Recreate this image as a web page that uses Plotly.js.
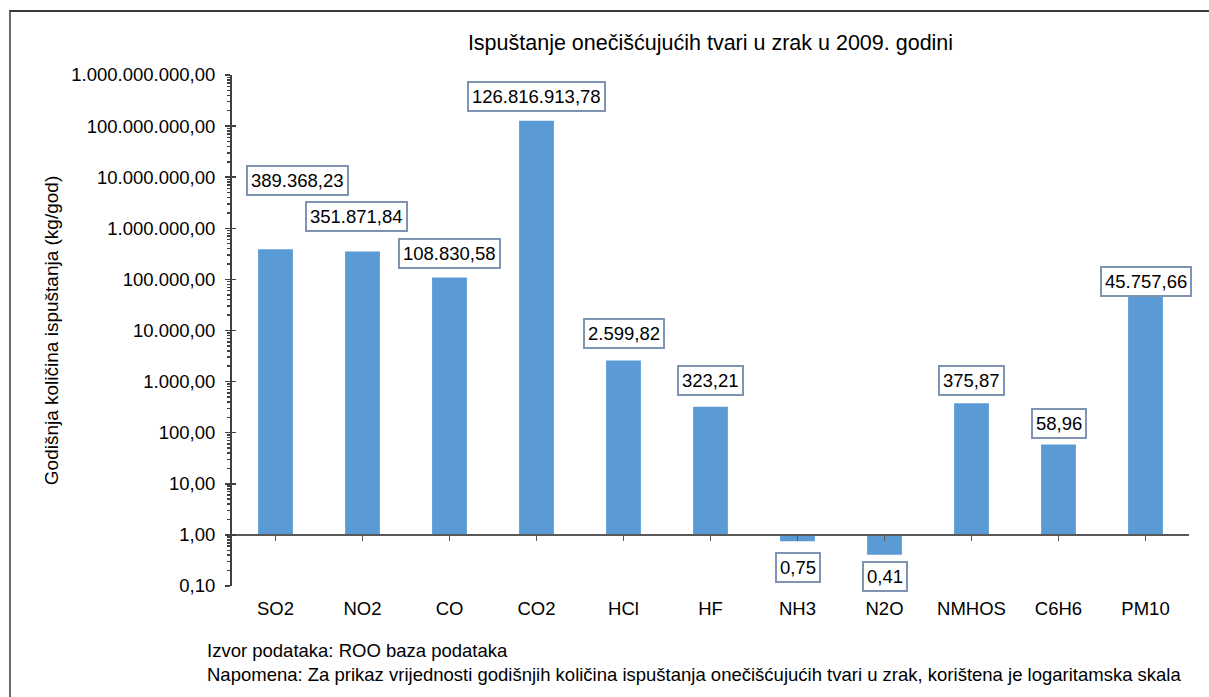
<!DOCTYPE html>
<html>
<head>
<meta charset="utf-8">
<script src="https://cdn.plot.ly/plotly-3.0.1.min.js"></script>
<style>
  html, body { margin: 0; padding: 0; background: #fff; overflow: hidden; }
  #chart { width: 1209px; height: 697px; }
  #frame { position: absolute; left: 9px; top: 10px; width: 1400px; height: 900px;
           border-top: 2px solid #3a3a3a; border-left: 2px solid #6a6a6a; pointer-events: none; }
</style>
</head>
<body>
<div id="chart"></div>
<div id="frame"></div>
<script>
// ---- data ----
const categories = ['SO2', 'NO2', 'CO', 'CO2', 'HCl', 'HF', 'NH3', 'N2O', 'NMHOS', 'C6H6', 'PM10'];
const values = [389368.23, 351871.84, 108830.58, 126816913.78, 2599.82, 323.21, 0.75, 0.41, 375.87, 58.96, 45757.66];
const valueLabels = ['389.368,23', '351.871,84', '108.830,58', '126.816.913,78', '2.599,82', '323,21',
                     '0,75', '0,41', '375,87', '58,96', '45.757,66'];
const yTickVals = [0.1, 1, 10, 100, 1000, 10000, 100000, 1000000, 10000000, 100000000, 1000000000];
const yTickText = ['0,10', '1,00', '10,00', '100,00', '1.000,00', '10.000,00', '100.000,00',
                   '1.000.000,00', '10.000.000,00', '100.000.000,00', '1.000.000.000,00'];
const titleText = 'Ispuštanje onečišćujućih tvari u zrak u 2009. godini';
const yTitleText = 'Godišnja količina ispuštanja (kg/god)';
const sourceText = 'Izvor podataka: ROO baza podataka';
const noteText = 'Napomena: Za prikaz vrijednosti godišnjih količina ispuštanja onečišćujućih tvari u zrak, korištena je logaritamska skala';

// ---- label placement (pixel offsets from bar end, layout only) ----
const labelShiftX = [22, -6, 0, 0, 0, 0, 0, 0, 0, 0, 0];
const labelShiftY = [69, 35, 24, 24, 27, 26, -26, -22, 23, 21, 15];

const FONT = '"Liberation Sans", Arial, sans-serif';
const barBase = 1; // category axis crosses the value axis at 1,00

const bars = {
  type: 'bar',
  x: categories,
  y: values.map(v => v - barBase),
  base: barBase,
  width: 0.4,
  marker: { color: '#5B9BD5', line: { width: 0 } },
  xaxis: 'x', yaxis: 'y',
  hoverinfo: 'skip',
  showlegend: false
};

// invisible helper trace for the overlaying axes
const helper = {
  type: 'scatter', mode: 'markers',
  x: categories, y: values,
  marker: { opacity: 0 },
  xaxis: 'x2', yaxis: 'y2',
  hoverinfo: 'skip', showlegend: false
};

const annotations = categories.map((c, i) => ({
  x: c, y: Math.log10(values[i]), xref: 'x', yref: 'y',
  text: valueLabels[i], showarrow: false,
  xanchor: 'center', yanchor: 'middle',
  xshift: labelShiftX[i], yshift: labelShiftY[i],
  font: { family: FONT, size: 18.5, color: '#000' },
  bgcolor: '#fff', bordercolor: '#7f93b3', borderwidth: 2, borderpad: 3
}));

annotations.push({
  xref: 'paper', yref: 'paper', x: -0.0282, y: (586 - 662) / 511, xanchor: 'left', yanchor: 'middle',
  align: 'left', showarrow: false, text: sourceText + '<br>' + noteText,
  font: { family: FONT, size: 18.5, color: '#000' }
});

const layout = {
  width: 1209, height: 697,
  margin: { l: 232, r: 20, t: 75, b: 111, pad: 0 },
  paper_bgcolor: '#fff', plot_bgcolor: '#fff',
  font: { family: FONT, color: '#000' },
  title: {
    text: titleText, x: 0.5, xref: 'paper', xanchor: 'center',
    y: 1 - 42 / 697, yref: 'container', yanchor: 'middle',
    font: { family: FONT, size: 21.5, color: '#000' }
  },
  xaxis: {
    type: 'category', categoryorder: 'array', categoryarray: categories,
    range: [-0.5, 10.5], showline: false, showgrid: false, zeroline: false,
    ticks: '', showticklabels: true, ticklabelstandoff: 9,
    tickfont: { family: FONT, size: 18.5, color: '#000' }, fixedrange: true
  },
  xaxis2: {
    type: 'category', categoryorder: 'array', categoryarray: categories,
    overlaying: 'x', anchor: 'free', position: 0.1,
    range: [-0.5, 10.5], showline: true, linecolor: '#595959', linewidth: 2,
    ticks: 'outside', ticklen: 5, tickcolor: '#595959', tickwidth: 1.5,
    showticklabels: false, showgrid: false, zeroline: false, fixedrange: true
  },
  yaxis: {
    type: 'log', range: [-1, 9],
    tickvals: yTickVals, ticktext: yTickText,
    ticks: 'outside', ticklen: 5, tickcolor: '#404040', tickwidth: 1.5,
    minor: { ticks: 'outside', ticklen: 3, tickcolor: '#404040', dtick: 'D1', showgrid: false },
    showline: true, linecolor: '#404040', linewidth: 2,
    showgrid: false, zeroline: false, ticklabelstandoff: 6,
    tickfont: { family: FONT, size: 18.5, color: '#000' },
    title: { text: yTitleText, standoff: 8, font: { family: FONT, size: 19, color: '#000' } },
    automargin: false, fixedrange: true
  },
  yaxis2: {
    type: 'log', range: [-1, 9], overlaying: 'y', side: 'left',
    tickvals: yTickVals, ticks: 'inside', ticklen: 4, tickcolor: '#404040', tickwidth: 1.5,
    showticklabels: false, showline: false, showgrid: false, zeroline: false, fixedrange: true
  },
  annotations: annotations,
  showlegend: false
};

Plotly.newPlot('chart', [bars, helper], layout, { displayModeBar: false, staticPlot: true });
</script>
</body>
</html>
